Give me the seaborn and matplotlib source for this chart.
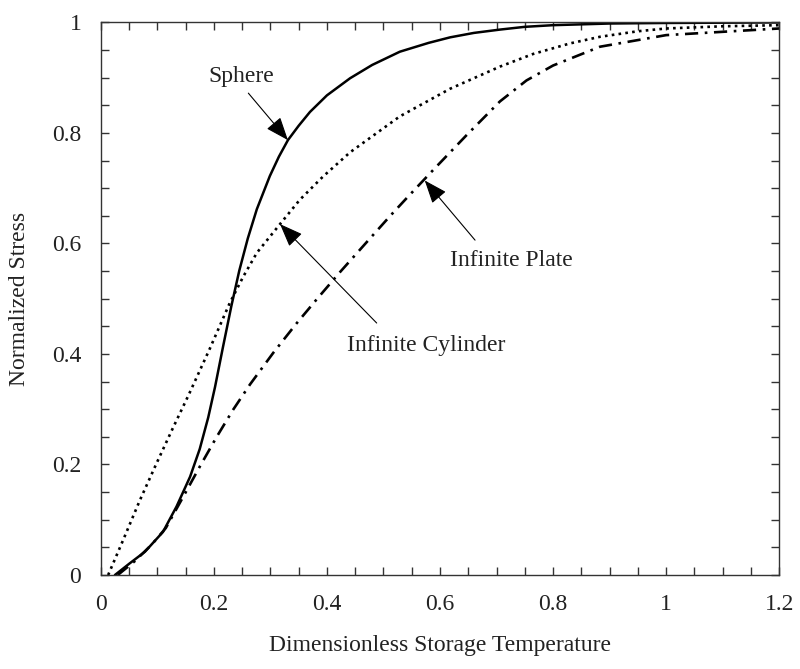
import matplotlib
matplotlib.use("Agg")
import matplotlib.pyplot as plt
import seaborn as sns
import numpy as np
import pandas as pd
from matplotlib.ticker import MultipleLocator

# ---- data ----
sphere_x = [0.025, 0.051, 0.078, 0.110, 0.134, 0.158, 0.175, 0.190, 0.202, 0.216, 0.231, 0.245,
            0.260, 0.276, 0.299, 0.315, 0.331, 0.350, 0.370, 0.400, 0.441, 0.480, 0.529, 0.580,
            0.618, 0.660, 0.706, 0.750, 0.800, 0.900, 1.000, 1.200]
sphere_y = [0.000, 0.021, 0.042, 0.078, 0.124, 0.178, 0.228, 0.285, 0.340, 0.412, 0.487, 0.551,
            0.609, 0.662, 0.722, 0.757, 0.787, 0.813, 0.838, 0.868, 0.899, 0.923, 0.947, 0.963,
            0.973, 0.981, 0.987, 0.992, 0.995, 0.998, 0.999, 1.000]

cyl_x = [0.013, 0.039, 0.069, 0.099, 0.128, 0.155, 0.193, 0.228, 0.252, 0.276, 0.317, 0.352,
         0.393, 0.441, 0.529, 0.618, 0.706, 0.765, 0.830, 0.883, 0.950, 1.000, 1.100, 1.200]
cyl_y = [0.000, 0.062, 0.135, 0.203, 0.267, 0.325, 0.410, 0.492, 0.540, 0.583, 0.635, 0.679,
         0.721, 0.765, 0.830, 0.880, 0.920, 0.943, 0.962, 0.974, 0.984, 0.989, 0.993, 0.995]

plate_x = [0.030, 0.060, 0.090, 0.115, 0.146, 0.175, 0.205, 0.234, 0.264, 0.305, 0.346, 0.382,
           0.423, 0.470, 0.512, 0.541, 0.588, 0.647, 0.706, 0.753, 0.800, 0.883, 1.000, 1.200]
plate_y = [0.000, 0.025, 0.055, 0.085, 0.142, 0.196, 0.250, 0.299, 0.345, 0.402, 0.455, 0.499,
           0.548, 0.602, 0.650, 0.682, 0.733, 0.796, 0.857, 0.895, 0.922, 0.956, 0.977, 0.989]

x_ticks = [0, 0.2, 0.4, 0.6, 0.8, 1.0, 1.2]
x_tick_labels = ["0", "0.2", "0.4", "0.6", "0.8", "1", "1.2"]
y_ticks = [0, 0.2, 0.4, 0.6, 0.8, 1.0]
y_tick_labels = ["0", "0.2", "0.4", "0.6", "0.8", "1"]

labels = ["Sphere", "Infinite Cylinder", "Infinite Plate"]
label_pos = [(0.249, 0.902), (0.575, 0.416), (0.727, 0.570)]
arrow_tail = [(0.261, 0.872), (0.488, 0.456), (0.662, 0.606)]
arrow_tip = [(0.331, 0.787), (0.317, 0.635), (0.573, 0.714)]

# ---- plot ----
sns.set_theme(style="ticks")
plt.rcParams['font.family'] = ['Liberation Serif', 'DejaVu Serif']
plt.rcParams['font.size'] = 17

fig = plt.figure(figsize=(8.0, 6.69), dpi=100)
ax = fig.add_axes([0.126, 0.1405, 0.848, 0.826])

df_s = pd.DataFrame({"x": sphere_x, "y": sphere_y})
df_c = pd.DataFrame({"x": cyl_x, "y": cyl_y})
df_p = pd.DataFrame({"x": plate_x, "y": plate_y})

sns.lineplot(data=df_s, x="x", y="y", ax=ax, color="black", linewidth=1.8, sort=False)
sns.lineplot(data=df_c, x="x", y="y", ax=ax, color="black", linewidth=1.9, sort=False,
             linestyle=(0, (1, 1.6)))
sns.lineplot(data=df_p, x="x", y="y", ax=ax, color="black", linewidth=1.9, sort=False,
             linestyle=(0, (5, 2.5, 1, 2.5)))

ax.set_xlim(0, 1.2)
ax.set_ylim(0, 1)
ax.set_xticks(x_ticks)
ax.set_xticklabels(x_tick_labels)
ax.set_yticks(y_ticks)
ax.set_yticklabels(y_tick_labels)
ax.xaxis.set_minor_locator(MultipleLocator(0.05))
ax.yaxis.set_minor_locator(MultipleLocator(0.05))
ax.tick_params(which="both", direction="in", length=6, width=1, color="#333333",
               top=True, right=True, labelsize=17, colors="#222222")
ax.tick_params(axis="x", pad=14)
ax.tick_params(axis="y", pad=14)
for sp in ax.spines.values():
    sp.set_visible(True)
    sp.set_linewidth(1.0)
    sp.set_color("#333333")

ax.set_xlabel("Dimensionless Storage Temperature", fontsize=17, labelpad=14, color="#222222")
ax.set_ylabel("Normalized Stress", fontsize=17, labelpad=16, color="#222222")

for lab, pos, tail, tip in zip(labels, label_pos, arrow_tail, arrow_tip):
    ax.text(pos[0], pos[1], lab, ha="center", va="center", fontsize=17, color="#222222")
    ax.annotate("", xy=tip, xytext=tail,
                arrowprops=dict(arrowstyle="-|>,head_length=0.9,head_width=0.35",
                                color="black", lw=0.8, mutation_scale=16,
                                shrinkA=0, shrinkB=0))

fig.savefig("out.png", dpi=100)
